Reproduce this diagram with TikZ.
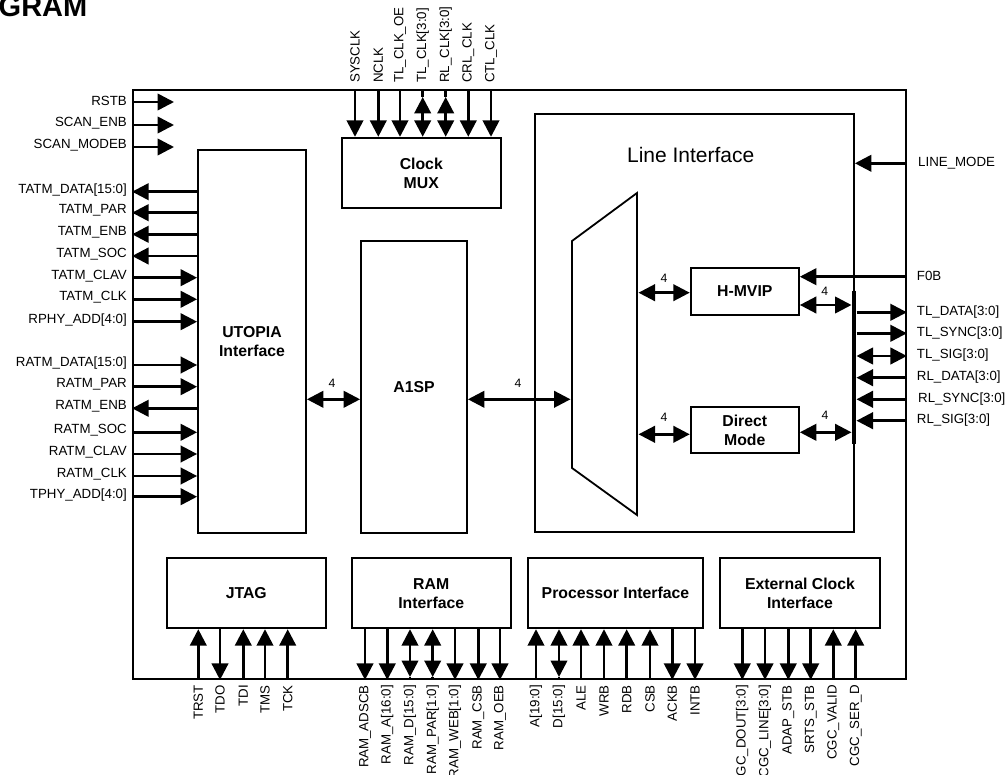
\documentclass[tikz,border=0pt]{standalone}
\usepackage{fontspec}
\setmainfont{Liberation Sans}
\usetikzlibrary{arrows.meta,calc}
\newcommand\labfont{\fontsize{13.3}{15}\selectfont}
\newcommand\blkfont{\fontsize{15.8}{19}\selectfont\bfseries}
\newcommand\numfont{\fontsize{12.2}{14}\selectfont}
\begin{document}
\begin{tikzpicture}[x=1pt,y=-1pt,
  blk/.style={draw, line width=1.8pt, fill=white, inner sep=0pt, align=center, font=\blkfont},
  lab/.style={font=\labfont, inner sep=0pt},
  num/.style={font=\numfont, inner sep=0pt},
  sig/.style={line width=2.6pt, -{Triangle[length=16.5pt,width=16.5pt]}},
  sigb/.style={line width=2.6pt, {Triangle[length=16.5pt,width=16.5pt]}-{Triangle[length=16.5pt,width=16.5pt]}},
  wire/.style={line width=2.6pt}]
\useasboundingbox (0,0) rectangle (1005,775);

% title (clipped)
\node[font=\fontsize{29}{32}\selectfont\bfseries, inner sep=0pt, anchor=base east] (title) at (87.5,17) {GRAM};

% outer chip
\node[blk, minimum width=773pt, minimum height=589pt] (chip) at (519.5,384.5) {};

% blocks
\node[blk, minimum width=108pt, minimum height=382.7pt] (utopia) at (252,341.3) {UTOPIA\\Interface};
\node[blk, minimum width=106pt, minimum height=292pt] (a1sp) at (414,386.7) {A1SP};
\node[blk, minimum width=159.3pt, minimum height=70.6pt] (mux) at (421.3,173) {Clock\\MUX};
\node[blk, minimum width=319pt, minimum height=418pt] (li) at (694.5,323) {};
\node[font=\fontsize{21}{24}\selectfont, inner sep=0pt] (litext) at (690.7,155) {Line Interface};
\node[blk, minimum width=108.3pt, minimum height=47pt] (hmvip) at (744.8,291.5) {H-MVIP};
\node[blk, minimum width=108.3pt, minimum height=46.6pt] (direct) at (744.8,430) {Direct\\Mode};
\node[blk, minimum width=159.3pt, minimum height=70pt] (jtag) at (246.3,593.3) {JTAG};
\node[blk, minimum width=159pt, minimum height=70pt] (ram) at (431.2,593.3) {RAM\\Interface};
\node[blk, minimum width=174.4pt, minimum height=70pt] (proc) at (615.5,593.3) {Processor Interface};
\node[blk, minimum width=160pt, minimum height=70pt] (ext) at (800,593.3) {External Clock\\Interface};

% trapezoid (line mux)
\coordinate (tza) at (572,241);
\coordinate (tzb) at (637,193);
\coordinate (tzc) at (637,515);
\coordinate (tzd) at (572,468);
\draw[line width=1.8pt] (tza) -- (tzb) -- (tzc) -- (tzd) -- cycle;

% left: reset / scan
\foreach \yy/\txt [count=\k] in {102/RSTB, 125/SCAN\_ENB, 147/SCAN\_MODEB} {
  \coordinate (sp\k) at (chip.west |- 0,\yy);
  \coordinate (se\k) at (174,\yy);
  \node[lab, anchor=east] (spl\k) at (127,\yy-1.5) {\txt};
  \draw[sig] (sp\k) -- (se\k);
}

% left: UTOPIA outputs
\foreach \yy/\txt [count=\k] in {191.7/TATM\_DATA[15:0], 212.7/TATM\_PAR, 234.3/TATM\_ENB, 256/TATM\_SOC, 408.3/RATM\_ENB} {
  \coordinate (uo\k) at (chip.west |- 0,\yy);
  \node[lab, anchor=east] (uol\k) at (127,\yy-2) {\txt};
  \draw[sig] (utopia.west |- uo\k) -- (uo\k);
}
% left: UTOPIA inputs
\foreach \yy/\txt [count=\k] in {277.7/TATM\_CLAV, 299.3/TATM\_CLK, 321.7/RPHY\_ADD[4:0], 365/RATM\_DATA[15:0], 386.7/RATM\_PAR, 432.3/RATM\_SOC, 454/RATM\_CLAV, 476/RATM\_CLK, 496.7/TPHY\_ADD[4:0]} {
  \coordinate (ui\k) at (chip.west |- 0,\yy);
  \node[lab, anchor=east] (uil\k) at (127,\yy-2) {\txt};
  \draw[sig] (ui\k) -- (utopia.west |- ui\k);
}

% top: clock mux
\foreach \xx/\txt [count=\k] in {355/SYSCLK, 378.3/NCLK, 400/TL\_CLK\_OE, 468.3/CRL\_CLK, 491/CTL\_CLK} {
  \coordinate (tp\k) at (chip.north -| \xx,0);
  \node[lab, rotate=90, anchor=west] (tpl\k) at (\xx,83) {\txt};
  \draw[sig] (tp\k) -- (mux.north -| tp\k);
}
\foreach \xx/\txt [count=\k] in {422.7/TL\_CLK[3:0], 445.7/RL\_CLK[3:0]} {
  \coordinate (tb\k) at (chip.north -| \xx,0);
  \coordinate (tbs\k) at (\xx,97);
  \node[lab, rotate=90, anchor=west] (tbl\k) at (\xx,83) {\txt};
  \draw[wire] (tb\k) -- (tbs\k);
  \draw[sigb] (tbs\k) -- (mux.north -| tb\k);
}

% internal buses
\coordinate (tzin) at (570.5,399.3);
\draw[sigb] (utopia.east |- tzin) -- (a1sp.west |- tzin);
\node[num] (n1) at (332,383) {4};
\draw[sigb] (a1sp.east |- tzin) -- (tzin);
\node[num] (n2) at (518,383) {4};
\coordinate (tzh) at (638.5,292.7);
\draw[sigb] (tzh) -- (hmvip.west |- tzh);
\node[num] (n3) at (664,278) {4};
\coordinate (tzm) at (638.5,434.3);
\draw[sigb] (tzm) -- (direct.west |- tzm);
\node[num] (n4) at (664,417.3) {4};

% vertical bus
\coordinate (busT) at (854,290.7);
\coordinate (busB) at (854,444);
\draw[line width=4.5pt] (busT) -- (busB);
\coordinate (bh) at (851.5,305);
\draw[sigb] (hmvip.east |- bh) -- (bh);
\node[num] (n5) at (824.7,291.7) {4};
\coordinate (bd) at (851.5,432.3);
\draw[sigb] (direct.east |- bd) -- (bd);
\node[num] (n6) at (825,415.7) {4};

% right side
\coordinate (lmp) at (chip.east |- 0,163.3);
\draw[sig] (lmp) -- (li.east |- lmp);
\node[lab, anchor=west] (lml) at (918,162.7) {LINE\_MODE};
\coordinate (fbp) at (chip.east |- 0,276.7);
\draw[sig] (fbp) -- (hmvip.east |- fbp);
\node[lab, anchor=west] (fbl) at (916.7,276) {F0B};

\foreach \yy/\txt [count=\k] in {312.3/TL\_DATA[3:0], 333.3/TL\_SYNC[3:0]} {
  \coordinate (ro\k) at (chip.east |- 0,\yy);
  \coordinate (rob\k) at (856.5,\yy);
  \node[lab, anchor=west] (rol\k) at (916.7,\yy-0.5) {\txt};
  \draw[sig] (rob\k) -- (ro\k);
}
\coordinate (rsp) at (chip.east |- 0,356);
\coordinate (rsb) at (856.5,356);
\draw[sigb] (rsb) -- (rsp);
\node[lab, anchor=west] (rsl) at (916.7,355.5) {TL\_SIG[3:0]};
\foreach \yy/\txt/\xo [count=\k] in {377.7/RL\_DATA[3:0]/916.7, 399.3/RL\_SYNC[3:0]/918, 420.7/RL\_SIG[3:0]/916.7} {
  \coordinate (ri\k) at (chip.east |- 0,\yy);
  \coordinate (rib\k) at (856.5,\yy);
  \node[lab, anchor=west] (ril\k) at (\xo,\yy-0.5) {\txt};
  \draw[sig] (ri\k) -- (rib\k);
}

% bottom: inputs (upwards)
\foreach \xx/\txt/\bx [count=\k] in {198.3/TRST/jtag, 243.3/TDI/jtag, 265/TMS/jtag, 287.7/TCK/jtag,
   536/A[19:0]/proc, 581/ALE/proc, 604/WRB/proc, 626.7/RDB/proc, 650/CSB/proc,
   833.3/CGC\_VALID/ext, 855.7/CGC\_SER\_D/ext} {
  \coordinate (bi\k) at (chip.south -| \xx,0);
  \node[lab, rotate=90, anchor=east] (bil\k) at (\xx,685) {\txt};
  \draw[sig] (bi\k) -- (\bx.south -| bi\k);
}
% bottom: outputs (downwards)
\foreach \xx/\txt/\bx [count=\k] in {220/TDO/jtag,
   365/RAM\_ADSCB/ram, 387.3/RAM\_A[16:0]/ram, 455/RAM\_WEB[1:0]/ram, 478.3/RAM\_CSB/ram, 500/RAM\_OEB/ram,
   672.3/ACKB/proc, 695/INTB/proc,
   742.3/CGC\_DOUT[3:0]/ext, 765/CGC\_LINE[3:0]/ext, 788.3/ADAP\_STB/ext, 810.7/SRTS\_STB/ext} {
  \coordinate (bo\k) at (chip.south -| \xx,0);
  \node[lab, rotate=90, anchor=east] (bol\k) at (\xx,685) {\txt};
  \draw[sig] (\bx.south -| bo\k) -- (bo\k);
}
% bottom: bidirectional
\foreach \xx/\txt/\bx [count=\k] in {410/RAM\_D[15:0]/ram, 432.7/RAM\_PAR[1:0]/ram, 559/D[15:0]/proc} {
  \coordinate (bb\k) at (\xx,677);
  \node[lab, rotate=90, anchor=east] (bbl\k) at (\xx,685) {\txt};
  \draw[wire] (bb\k) -- (chip.south -| bb\k);
  \draw[sigb] (\bx.south -| bb\k) -- (bb\k);
}
\end{tikzpicture}
\end{document}
